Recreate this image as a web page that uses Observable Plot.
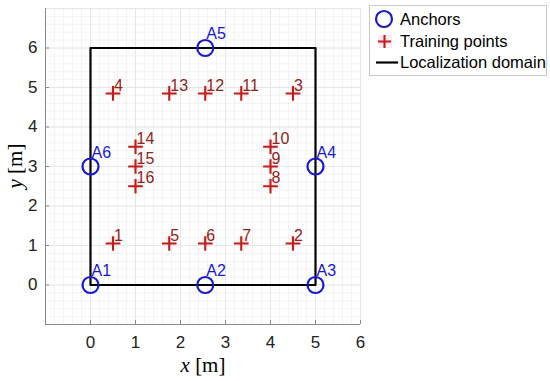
<!DOCTYPE html>
<html><head><meta charset="utf-8">
<script src="https://cdn.jsdelivr.net/npm/d3@7"></script>
<script src="https://cdn.jsdelivr.net/npm/@observablehq/plot@0.6"></script>
<style>
body{margin:0;background:#fff;}
#wrap{position:relative;width:550px;height:381px;}
#legend{position:absolute;left:369px;top:5px;width:178px;height:71px;border:1px solid #c8c8c8;background:#fff;font-family:"Liberation Sans",Arial,sans-serif;font-size:16.5px;color:#000;box-sizing:border-box;}
.row{position:absolute;left:0;height:22px;line-height:22px;}
.row span{position:absolute;left:30px;white-space:nowrap;}
</style></head><body>
<div id="wrap"></div>
<script>
// Data
const trainIds = [1,2,3,4,5,6,7,8,9,10,11,12,13,14,15,16];
const trainX = [0.5,4.5,4.5,0.5,1.75,2.55,3.35,4.0,4.0,4.0,3.35,2.55,1.75,1.0,1.0,1.0];
const trainY = [1.05,1.05,4.85,4.85,1.05,1.05,1.05,2.5,3.0,3.5,4.85,4.85,4.85,3.5,3.0,2.5];
const anchorNames = ["A1","A2","A3","A4","A5","A6"];
const anchorX = [0,2.55,5,5,2.55,0];
const anchorY = [0,0,0,3,6,3];
const domainX = [0,5,5,0,0];
const domainY = [0,0,6,6,0];
const xTicks = [0,1,2,3,4,5,6];
const yTicks = [0,1,2,3,4,5,6];

const train = trainIds.map((id,i)=>({id, x:trainX[i], y:trainY[i]}));
const anchors = anchorNames.map((n,i)=>({n, x:anchorX[i], y:anchorY[i]}));
const rect = domainX.map((x,i)=>({x, y:domainY[i]}));
const minorX = d3.range(-1, 6.001, 0.2).map(v=>+v.toFixed(2));
const minorY = d3.range(-1, 7.001, 0.2).map(v=>+v.toFixed(2));

const chart = Plot.plot({
  width: 550, height: 381,
  marginLeft: 45, marginRight: 190, marginTop: 8, marginBottom: 57,
  x: {domain: [-1, 6]},
  y: {domain: [-1, 7]},
  style: {fontFamily: '"Liberation Sans", Arial, sans-serif', fontSize: "17px", background: "#fff"},
  marks: [
    Plot.ruleX(minorX, {stroke: "#f0f0f0", strokeWidth: 0.8}),
    Plot.ruleY(minorY, {stroke: "#f0f0f0", strokeWidth: 0.8}),
    Plot.ruleX(xTicks.concat([-1]), {stroke: "#e2e2e2", strokeWidth: 0.8}),
    Plot.ruleY(yTicks.concat([-1,7]), {stroke: "#e2e2e2", strokeWidth: 0.8}),
    Plot.ruleX([-1], {stroke: "#8a8a8a", strokeWidth: 1}),
    Plot.ruleY([-1], {stroke: "#8a8a8a", strokeWidth: 1}),
    Plot.axisX(xTicks, {tickSize: -4, stroke: "#8a8a8a", tickPadding: 15, fontSize: 17, fill: "#222", label: null, anchor: "bottom"}),
    Plot.axisY(yTicks, {tickSize: -4, stroke: "#8a8a8a", tickPadding: 12, fontSize: 17, fill: "#222", label: null, anchor: "left"}),
    Plot.dot(train, {x: "x", y: "y", symbol: "square", r: 6, fill: "#fdecf3", stroke: "none", dx: 2, dy: -2}),
    Plot.line(rect, {x: "x", y: "y", stroke: "#000", strokeWidth: 2.2}),
    Plot.dot(train, {x: "x", y: "y", symbol: "plus", r: 4.8, stroke: "#c01e18", strokeWidth: 2.1}),
    Plot.text(train, {x: "x", y: "y", text: "id", dx: 1, dy: -8, textAnchor: "start", fill: "#8e2418", fontSize: 16}),
    Plot.dot(anchors, {x: "x", y: "y", r: 8, stroke: "#1818d0", strokeWidth: 2.2, fill: "none"}),
    Plot.text(anchors, {x: "x", y: "y", text: "n", dx: 1, dy: -14, textAnchor: "start", fill: "#1818d0", fontSize: 16})
  ]
});
const wrap = document.getElementById("wrap");
wrap.appendChild(chart);
const svg = d3.select(chart);
svg.selectAll('g[aria-label$="tick label"]').attr("font-size", 17).style("font-size", "17px");
svg.selectAll('g[aria-label$="tick label"] text').style("font-size", "17px");
// axis titles
svg.append("text").attr("x", 203).attr("y", 372).attr("text-anchor", "middle")
  .attr("font-family", '"Liberation Serif",serif').attr("font-size", 21)
  .html('<tspan font-style="italic">x</tspan> [m]');
svg.append("text").attr("transform", "translate(22,166) rotate(-90)").attr("text-anchor", "middle")
  .attr("font-family", '"Liberation Serif",serif').attr("font-size", 21)
  .html('<tspan font-style="italic">y</tspan> [m]');

// legend
const legend = document.createElement("div");
legend.id = "legend";
legend.innerHTML = `
<div class="row" style="top:2px;width:100%"><svg width="32" height="22" style="position:absolute;left:0;top:0"><circle cx="14" cy="11" r="8" fill="none" stroke="#1818d0" stroke-width="2.2"/></svg><span>Anchors</span></div>
<div class="row" style="top:24px;width:100%"><svg width="32" height="22" style="position:absolute;left:0;top:0"><rect x="8" y="5" width="14" height="13" fill="#fdecf3"/><path d="M8 11.5H21M14.5 5V18" stroke="#c01e18" stroke-width="2.1"/></svg><span>Training points</span></div>
<div class="row" style="top:45px;width:100%"><svg width="32" height="22" style="position:absolute;left:0;top:0"><path d="M6 11.5H28" stroke="#000" stroke-width="2.2"/></svg><span>Localization domain</span></div>`;
wrap.appendChild(legend);
</script>
</body></html>
